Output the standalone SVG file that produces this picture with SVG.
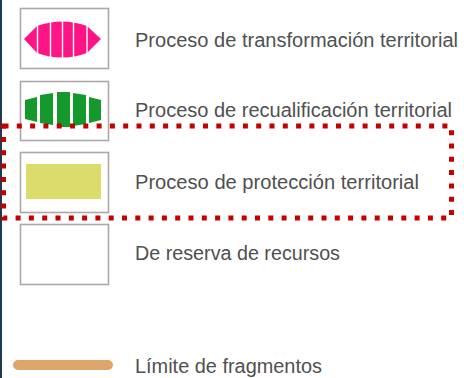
<svg xmlns="http://www.w3.org/2000/svg" width="464" height="378" viewBox="0 0 464 378">
  <style>
    .box { fill: #ffffff; stroke: #a9a9a9; stroke-width: 1.6; }
    .lbl { font-family: "Liberation Sans", "DejaVu Sans", sans-serif; font-size: 20px; fill: #505050; }
    .gap { stroke: #ffffff; stroke-width: 1.4; }
  </style>
  <rect x="0" y="0" width="464" height="378" fill="#ffffff"/>
  <rect x="0" y="0" width="2" height="378" fill="#1e3a50"/>

  <g id="item-transformacion">
    <rect class="box" x="20.5" y="8.5" width="88" height="60"/>
    <path d="M24 39 L37 26 Q62 17 87 26 L101 39 L87 53 Q62 62 37 53 Z" fill="#ff1486"/>
    <line class="gap" x1="37.5" y1="20" x2="37.5" y2="60"/>
    <line class="gap" x1="50.5" y1="20" x2="50.5" y2="60"/>
    <line class="gap" x1="62.5" y1="18" x2="62.5" y2="60"/>
    <line class="gap" x1="73.5" y1="18" x2="73.5" y2="60"/>
    <line class="gap" x1="87" y1="20" x2="87" y2="60"/>
    <text class="lbl" x="135" y="47" textLength="323" lengthAdjust="spacingAndGlyphs">Proceso de transformación territorial</text>
  </g>

  <g id="item-recualificacion">
    <rect class="box" x="20.5" y="81.5" width="88" height="59"/>
    <g fill="#14992c">
      <polygon points="25,100 37,97 37,122 25,119"/>
      <polygon points="40,95 53,93 53,125 40,123"/>
      <polygon points="57,92 70,92 70,127 57,127"/>
      <polygon points="73,93 86,95 86,124 73,126"/>
      <polygon points="89,97 101,100 101,120 89,123"/>
    </g>
    <text class="lbl" x="135" y="117" textLength="317" lengthAdjust="spacingAndGlyphs">Proceso de recualificación territorial</text>
  </g>

  <g id="item-proteccion">
    <rect class="box" x="20.5" y="152.5" width="88" height="60"/>
    <rect x="26" y="164" width="75" height="35" fill="#dcdc6c"/>
    <text class="lbl" x="135" y="189" textLength="284" lengthAdjust="spacingAndGlyphs">Proceso de protección territorial</text>
  </g>

  <g id="item-reserva">
    <rect class="box" x="20.5" y="224.5" width="88" height="60"/>
    <text class="lbl" x="135" y="260" textLength="205" lengthAdjust="spacingAndGlyphs">De reserva de recursos</text>
  </g>

  <g id="item-limite">
    <line x1="18" y1="365" x2="108" y2="365" stroke="#dca66c" stroke-width="10" stroke-linecap="round"/>
    <text class="lbl" x="135" y="373" textLength="187" lengthAdjust="spacingAndGlyphs">Límite de fragmentos</text>
  </g>

  <g id="connectors">
    <rect x="3.5" y="126" width="448" height="92" fill="none" stroke="#c40000" stroke-width="5" stroke-dasharray="5 8.3"/>
  </g>
</svg>
